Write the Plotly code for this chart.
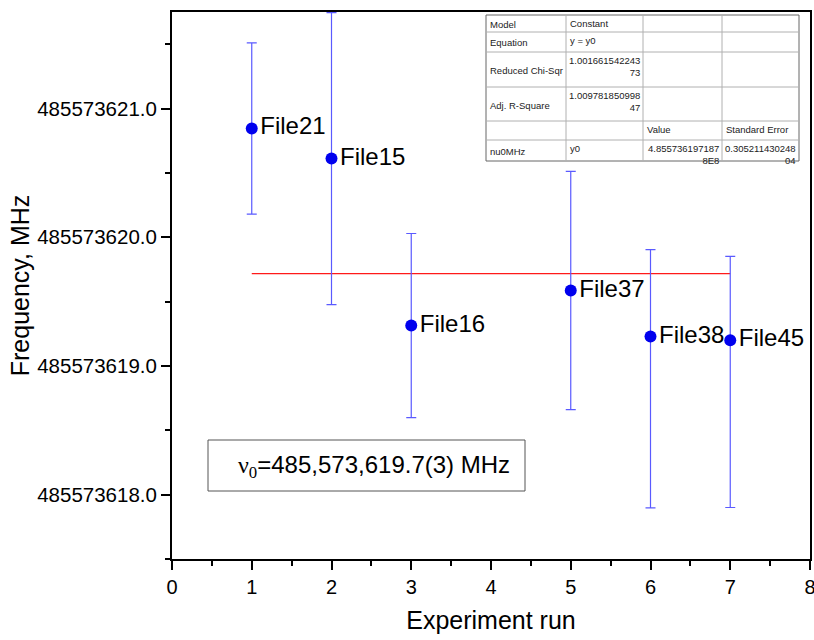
import plotly.graph_objects as go

# ---------------- data ----------------
runs = [1, 2, 3, 5, 6, 7]
file_labels = ["File21", "File15", "File16", "File37", "File38", "File45"]
freq_mhz = [485573620.845, 485573620.611, 485573619.314, 485573619.586, 485573619.228, 485573619.200]
err_plus = [0.665, 1.134, 0.715, 0.925, 0.676, 0.652]
err_minus = [0.665, 1.134, 0.715, 0.925, 1.330, 1.300]

fit_runs = [1, 7]
fit_value = 485573619.718

y_tickvals = [485573618.0, 485573619.0, 485573620.0, 485573621.0]
y_ticktext = ["485573618.0", "485573619.0", "485573620.0", "485573621.0"]
x_tickvals = [0, 1, 2, 3, 4, 5, 6, 7, 8]
x_ticktext = ["0", "1", "2", "3", "4", "5", "6", "7", "8"]

table_rows = [
    ["Model", "Constant", "", ""],
    ["Equation", "y = y0", "", ""],
    ["Reduced Chi-Sqr", "1.001661542243<br>73", "", ""],
    ["Adj. R-Square", "1.009781850998<br>47", "", ""],
    ["", "", "Value", "Standard Error"],
    ["nu0MHz", "y0", "4.855736197187<br>8E8", "0.305211430248<br>04"],
]
result_text = "<span style='font-family:Liberation Serif'>ν<sub>0</sub></span>=485,573,619.7(3) MHz"

# ---------------- layout helpers ----------------
W, H = 814, 640
L, R, T, B = 172, 810, 12, 559
PW, PH = R - L, B - T


def px(x):
    return (x - L) / PW


def py(y):
    return (B - y) / PH


FONT = "Arial, Liberation Sans, sans-serif"

fig = go.Figure()

# fit line
fig.add_trace(go.Scatter(
    x=fit_runs, y=[fit_value] * len(fit_runs), mode="lines",
    line=dict(color="#ff1a1a", width=1.2), showlegend=False, hoverinfo="skip"))

# data points with error bars
fig.add_trace(go.Scatter(
    x=runs, y=freq_mhz, mode="markers+text",
    text=file_labels, textposition="middle right",
    textfont=dict(family=FONT, size=24, color="black"),
    marker=dict(color="#0000ee", size=12),
    error_y=dict(type="data", symmetric=False, array=err_plus, arrayminus=err_minus,
                 color="#5a5aff", thickness=1.2, width=5),
    showlegend=False, cliponaxis=False))

# ---------------- table (top right) ----------------
col_edges = [486, 566, 643, 722, 799]
row_edges = [15, 32, 52, 87, 121, 140, 161]
shapes = []
annotations = []
shapes.append(dict(type="rect", xref="paper", yref="paper",
                   x0=px(col_edges[0]), x1=px(col_edges[-1]),
                   y0=py(row_edges[-1]), y1=py(row_edges[0]),
                   line=dict(color="#666666", width=1), fillcolor="white", layer="above"))
for xe in col_edges[1:-1]:
    shapes.append(dict(type="line", xref="paper", yref="paper",
                       x0=px(xe), x1=px(xe), y0=py(row_edges[-1]), y1=py(row_edges[0]),
                       line=dict(color="#b0b0b0", width=1), layer="above"))
for ye in row_edges[1:-1]:
    shapes.append(dict(type="line", xref="paper", yref="paper",
                       x0=px(col_edges[0]), x1=px(col_edges[-1]), y0=py(ye), y1=py(ye),
                       line=dict(color="#b0b0b0", width=1), layer="above"))

TFS = 9.5
for ri, row in enumerate(table_rows):
    y_top, y_bot = row_edges[ri], row_edges[ri + 1]
    for ci, txt in enumerate(row):
        if not txt:
            continue
        x_l, x_r = col_edges[ci], col_edges[ci + 1]
        multiline = "<br>" in txt
        if ci == 0:
            annotations.append(dict(xref="paper", yref="paper", x=px(x_l + 2), y=py((y_top + y_bot) / 2 + 1),
                                    xanchor="left", yanchor="middle", text=txt, showarrow=False,
                                    font=dict(family=FONT, size=TFS, color="#222")))
        elif multiline:
            annotations.append(dict(xref="paper", yref="paper", x=px(x_r - 1), y=py(y_top + 1),
                                    xanchor="right", yanchor="top", text=txt, showarrow=False, align="right",
                                    font=dict(family=FONT, size=TFS, color="#222")))
        else:
            annotations.append(dict(xref="paper", yref="paper", x=px(x_l + 2), y=py(y_top + 1),
                                    xanchor="left", yanchor="top", text=txt, showarrow=False,
                                    font=dict(family=FONT, size=TFS, color="#222")))

# ---------------- result box ----------------
shapes.append(dict(type="rect", xref="paper", yref="paper",
                   x0=px(208), x1=px(525), y0=py(491), y1=py(440),
                   line=dict(color="#555555", width=1), fillcolor="white", layer="above"))
annotations.append(dict(xref="paper", yref="paper", x=px(236), y=py(466),
                        xanchor="left", yanchor="middle", text=result_text, showarrow=False,
                        font=dict(family=FONT, size=24, color="black")))

fig.update_layout(
    width=W, height=H,
    margin=dict(l=L, r=W - R, t=T, b=H - B, autoexpand=False),
    paper_bgcolor="white", plot_bgcolor="white",
    font=dict(family=FONT, color="black"),
    shapes=shapes, annotations=annotations,
    xaxis=dict(range=[0, 8], tickmode="array", tickvals=x_tickvals, ticktext=x_ticktext,
               automargin=False, ticklabeloverflow="allow",
               showline=True, linecolor="black", linewidth=2, mirror=True,
               ticks="outside", ticklen=9, tickwidth=2, tickcolor="black",
               minor=dict(dtick=0.5, tick0=0, ticks="outside", ticklen=5, tickwidth=2, tickcolor="black"),
               showgrid=False, zeroline=False,
               tickfont=dict(family=FONT, size=20),
               title=dict(text="Experiment run", font=dict(family=FONT, size=25), standoff=14)),
    yaxis=dict(range=[485573617.5, 485573621.75], tickmode="array", tickvals=y_tickvals, ticktext=y_ticktext,
               automargin=False, ticklabeloverflow="allow",
               showline=True, linecolor="black", linewidth=2, mirror=True,
               ticks="outside", ticklen=9, tickwidth=2, tickcolor="black",
               minor=dict(dtick=0.5, tick0=485573617.5, ticks="outside", ticklen=5, tickwidth=2, tickcolor="black"),
               showgrid=False, zeroline=False,
               tickfont=dict(family=FONT, size=20.5),
               title=dict(text="Frequency, MHz", font=dict(family=FONT, size=25), standoff=0)),
)

fig.write_html("out.html", config={"displayModeBar": False},
               post_script="document.body.style.margin='0px';document.body.style.overflow='hidden';")
